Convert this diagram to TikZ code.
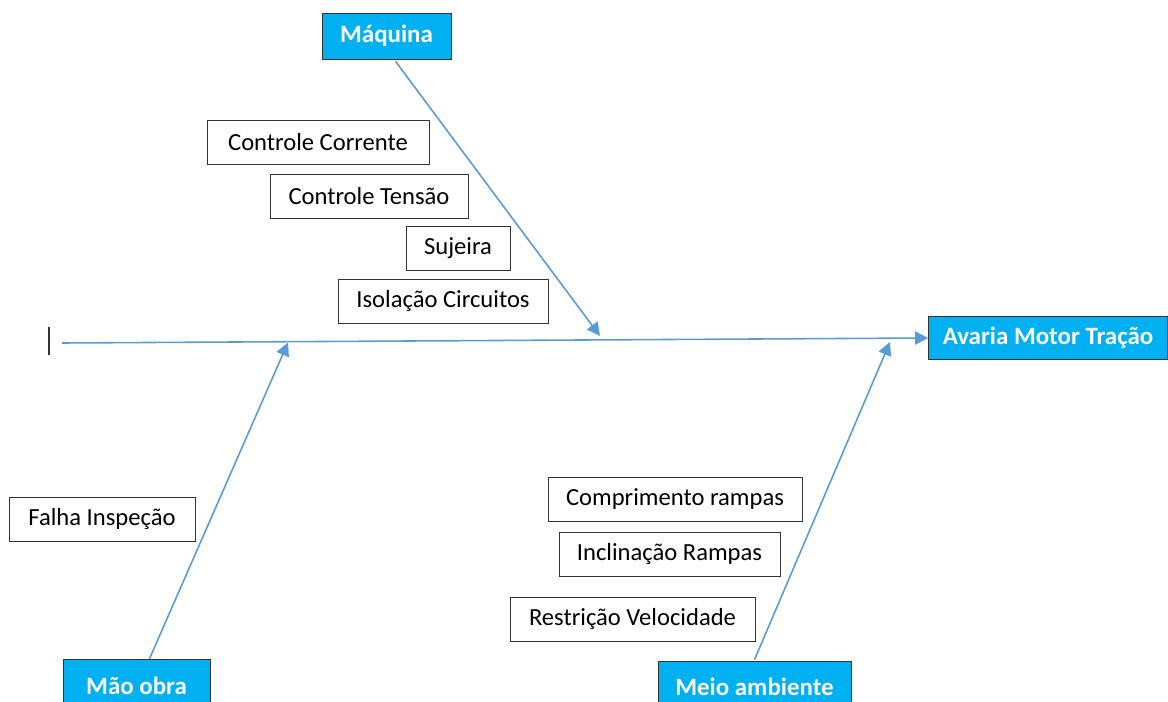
\documentclass[tikz,border=0pt]{standalone}
\usepackage{fontspec}
\setmainfont{Carlito}
\usepackage{xcolor}
\usetikzlibrary{arrows.meta, positioning, calc}

\definecolor{boneblue}{RGB}{91,155,213}
\definecolor{headfill}{RGB}{0,176,240}

\begin{document}
\begin{tikzpicture}[
    x=0.02cm, y=-0.02cm,
    % Node styles
    catbox/.style={rectangle, draw=black!80, fill=headfill, text=white, font=\fontsize{14.2}{16}\selectfont\bfseries, inner sep=0pt, text centered},
    causebox/.style={rectangle, draw=black!80, fill=white, font=\fontsize{14}{16}\selectfont, inner sep=0pt, text centered, minimum height=0.88cm},
    bone/.style={-{Triangle[length=7.5pt, width=7.5pt]}, boneblue, line width=0.9pt}
]
\useasboundingbox (0,0) rectangle (1168,702);
\clip (0,0) rectangle (1168,702);

% Effect (head) and categories
\node[catbox, minimum width=4.78cm, minimum height=0.86cm] (effect) at (1048, 338) {Avaria Motor Tração};
\node[catbox, minimum width=2.58cm, minimum height=0.92cm] (maquina) at (386.5, 36) {Máquina};
\node[catbox, minimum width=2.94cm, minimum height=1.06cm] (maoobra) at (136.5, 685.5) {Mão obra};
\node[catbox, minimum width=3.86cm, minimum height=1.02cm] (meio) at (754.5, 686.5) {Meio ambiente};

% Causes
\node[causebox, minimum width=4.44cm] (corrente) at (318, 142) {Controle Corrente};
\node[causebox, minimum width=3.96cm] (tensao) at (369, 196) {Controle Tensão};
\node[causebox, minimum width=2.08cm] (sujeira) at (458, 248) {Sujeira};
\node[causebox, minimum width=4.2cm] (isolacao) at (443, 301.5) {Isolação Circuitos};
\node[causebox, minimum width=3.72cm] (falha) at (102, 519) {Falha Inspeção};
\node[causebox, minimum width=5.08cm] (comprimento) at (675, 499.5) {Comprimento rampas};
\node[causebox, minimum width=4.42cm] (inclinacao) at (669.5, 554.5) {Inclinação Rampas};
\node[causebox, minimum width=4.9cm] (restricao) at (632.5, 619) {Restrição Velocidade};

% Spine
\coordinate (tail) at (62, 343);
\coordinate (jmaq) at (600, 336);
\coordinate (jmao) at (288, 342.5);
\coordinate (jmeio) at (890, 342);
\draw[black!80, line width=0.8pt] (49, 327) -- (49, 355);
\draw[bone] (tail) -- (effect.west);

% Category bones
\draw[bone] (maquina.south) ++(9,2) -- (jmaq);
\draw[bone] (maoobra.north) ++(13,0) -- (jmao);
\draw[bone] (meio.north) ++(0,-1) -- (jmeio);

\end{tikzpicture}
\end{document}
